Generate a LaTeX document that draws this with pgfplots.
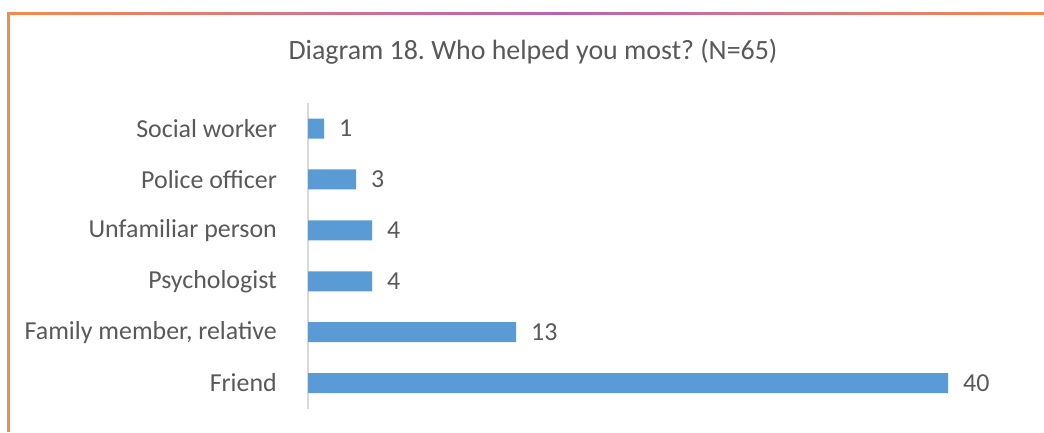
\documentclass[border=0pt]{standalone}
\usepackage{fontspec}
\setmainfont{Carlito}
\usepackage{pgfplots}
\pgfplotsset{compat=1.18}
\frenchspacing
\definecolor{barblue}{HTML}{5B9BD5}
\definecolor{txt}{HTML}{595959}
\definecolor{axgray}{HTML}{D9D9D9}
\definecolor{borange}{HTML}{F58A4B}
\definecolor{bpurple}{HTML}{B962B8}
\begin{document}
\begin{tikzpicture}[x=1bp,y=1bp]
\fill[white] (0,0) rectangle (1044,-432);
\fill[borange] (7,-12) rectangle (9.5,-432);
\shade[left color=borange, right color=bpurple] (7,-12) rectangle (560,-14.5);
\shade[left color=bpurple, right color=borange] (560,-12) rectangle (1044,-14.5);
\node[txt, inner sep=0, font=\fontsize{28}{33}\selectfont] at (533,-52) {Diagram 18.\ Who helped you most? (N=65)};
\begin{axis}[
  at={(308bp,-408.5bp)}, anchor=south west,
  scale only axis, width=640bp, height=305.4bp,
  xmin=0, xmax=40, ymin=-0.5, ymax=5.5,
  xbar, bar width=20bp,
  axis x line=none, axis y line*=left,
  y axis line style={axgray, line width=1.5bp},
  ytick={0,1,2,3,4,5},
  yticklabels={Friend,{Family member, relative},Psychologist,Unfamiliar person,Police officer,Social worker},
  major tick length=0,
  /pgf/number format/assume math mode=true,
  yticklabel style={txt, inner sep=0, xshift=-31bp, font=\fontsize{26}{31}\selectfont},
  nodes near coords,
  nodes near coords style={txt, anchor=west, inner sep=0, xshift=15bp, font=\fontsize{26}{31}\selectfont},
  clip=false,
]
\addplot[fill=barblue, draw=none] coordinates {(40,0) (13,1) (4,2) (4,3) (3,4) (1,5)};
\end{axis}
\end{tikzpicture}
\end{document}
